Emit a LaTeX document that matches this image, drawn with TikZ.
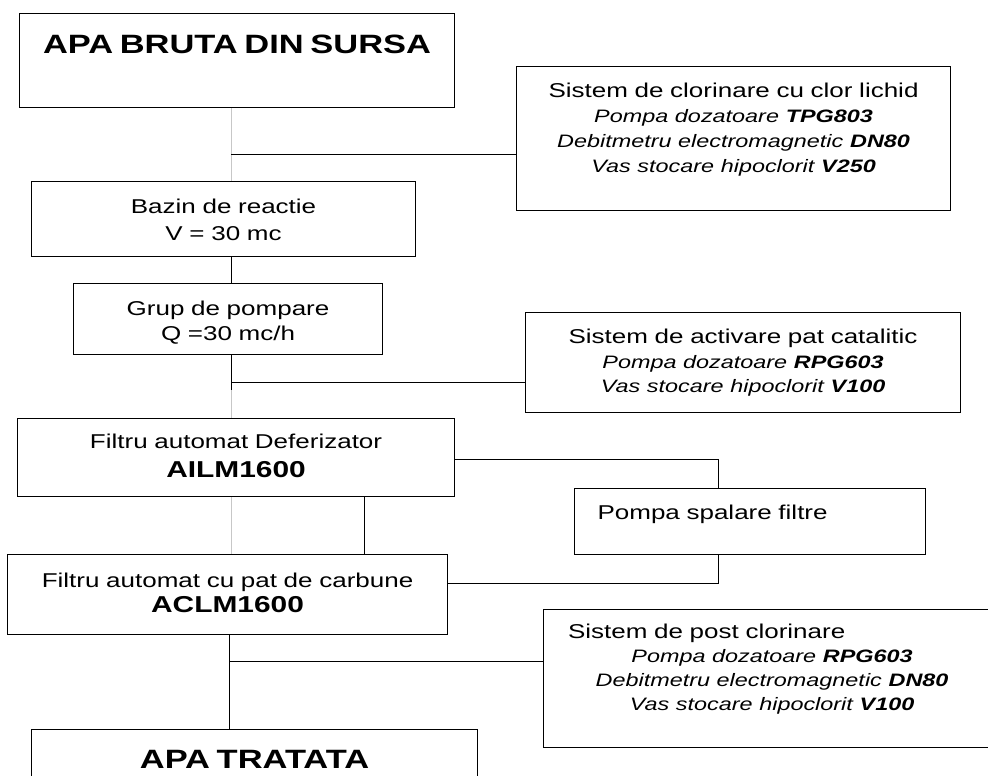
\documentclass[tikz,border=0pt]{standalone}
\usepackage{fontspec}
\newfontfamily\flowfont[FakeStretch=1.3]{Liberation Sans}
\newcommand\itline{\fontsize{18}{24}\selectfont\itshape}
\newcommand\bigbold{\fontsize{26.5}{30}\selectfont\bfseries}
\newcommand\codebold{\fontsize{23}{28}\selectfont\bfseries}
\tikzset{
flowbox/.style={
  draw,
  line width=1.1pt,
  anchor=north west,
  inner xsep=0pt,
  inner ysep=0pt,
  align=center,
  font=\flowfont\fontsize{20}{25}\selectfont
  },
link/.style={line width=1pt},
faint/.style={line width=0.7pt,black!22}
}

\begin{document}
\begin{tikzpicture}[x=1pt,y=-1pt]
\useasboundingbox (0,0) rectangle (988,776);
\clip (0,0) rectangle (988,776);

\node[flowbox,text width=435pt,text height=40pt,text depth=54pt]
at (19,13) (title) {\bigbold APA BRUTA DIN SURSA};

\node[flowbox,text width=434pt,text height=31pt,text depth=113pt]
at (516,66) (clor)
{Sistem de clorinare cu clor lichid\\
{\itline Pompa dozatoare \textbf{TPG803}}\\
{\itline Debitmetru electromagnetic \textbf{DN80}}\\
{\itline Vas stocare hipoclorit \textbf{V250}}};

\node[flowbox,text width=384pt,text height=32pt,text depth=43pt]
at (31,181) (bazin) {Bazin de reactie\\[2pt] V = 30 mc};

\node[flowbox,text width=309pt,text height=32pt,text depth=39pt]
at (73,283) (grup) {Grup de pompare\\ Q =30 mc/h};

\node[flowbox,text width=435pt,text height=31pt,text depth=69pt]
at (525,312) (activ)
{Sistem de activare pat catalitic\\
{\itline Pompa dozatoare \textbf{RPG603}}\\[-1pt]
{\itline Vas stocare hipoclorit \textbf{V100}}};

\node[flowbox,text width=437pt,text height=30pt,text depth=48pt]
at (17,418) (defer) {Filtru automat Deferizator\\[4pt] {\codebold AILM1600}};

\node[flowbox,align=left,text width=305pt,inner xsep=23pt,text height=31pt,text depth=35pt]
at (574,488) (pompa) {Pompa spalare filtre};

\node[flowbox,text width=440pt,text height=33pt,text depth=47pt]
at (7,554) (carbon) {Filtru automat cu pat de carbune\\ {\codebold ACLM1600}};

\node[flowbox,align=left,text width=408pt,inner xsep=24.5pt,text height=29pt,text depth=109pt]
at (543,609) (post)
{Sistem de post clorinare\par
{\centering\itline Pompa dozatoare \textbf{RPG603}\\
Debitmetru electromagnetic \textbf{DN80}\\
Vas stocare hipoclorit \textbf{V100}\par}};

\node[flowbox,text width=446pt,text height=39pt,text depth=50pt]
at (31,729) (tratata) {\bigbold APA TRATATA};

% junctions on the main line
\coordinate (j1) at (231,154);
\coordinate (j2) at (231,382);
\coordinate (j3) at (229,661);

\draw[faint] (title.south -| j1) -- (bazin.north -| j1);
\draw[link] (j1) -- (j1 -| clor.west);

\draw[link] (bazin.south -| j1) -- (grup.north -| j1);
\draw[link] (grup.south -| j2) -- ([yshift=-8pt]j2);
\draw[faint] ([yshift=-8pt]j2) -- (defer.north -| j2);
\draw[link] (j2) -- (j2 -| activ.west);

% wash pump loop
\draw[link] ([yshift=-2pt]defer.east) -| ([xshift=-31.5pt]pompa.north);
\draw[link] ([xshift=-31.5pt]pompa.south) |- ([yshift=11pt]carbon.east);

\draw[link] ([xshift=128.5pt]defer.south) -- ([xshift=128.5pt]defer.south |- carbon.north);
\draw[faint] (defer.south -| j2) -- (carbon.north -| j2);

\draw[link] (carbon.south -| j3) -- (tratata.north -| j3);
\draw[link] (j3) -- (j3 -| post.west);
\end{tikzpicture}
\end{document}
